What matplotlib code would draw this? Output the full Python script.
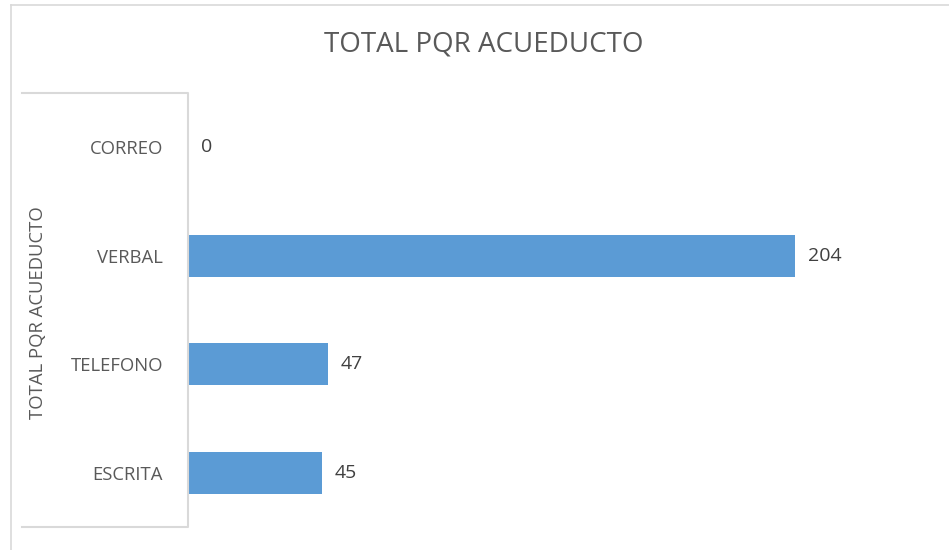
import matplotlib
matplotlib.use("Agg")
import matplotlib.pyplot as plt
from matplotlib.lines import Line2D

# data
categories = ["ESCRITA", "TELEFONO", "VERBAL", "CORREO"]
values = [45, 47, 204, 0]
chart_title = "TOTAL PQR ACUEDUCTO"
axis_title = "TOTAL PQR ACUEDUCTO"

W, H = 949, 550
plt.rcParams['font.family'] = ['Open Sans', 'DejaVu Sans']

fig = plt.figure(figsize=(W / 100, H / 100), dpi=100)
fig.patch.set_facecolor("white")

# plot area in pixels: left 188, right 932, top 93, bottom 527
left, right, top, bottom = 188, 932, 93, 527
ax = fig.add_axes([left / W, 1 - bottom / H, (right - left) / W, (bottom - top) / H])

ypos = list(range(len(categories)))
ax.barh(ypos, values, height=0.39, color="#5B9BD5")
ax.set_xlim(0, 250)
ax.set_ylim(-0.5, len(categories) - 0.5)

for s in ax.spines.values():
    s.set_visible(False)
ax.set_xticks([])
ax.set_yticks(ypos)
ax.set_yticklabels(categories, fontsize=13.3, color="#595959")
ax.tick_params(axis="y", length=0, pad=18)

# data labels
for y, v in zip(ypos, values):
    ax.annotate(str(v), xy=(v, y), xytext=(9.5, 0), textcoords="offset points",
                ha="left", va="center", fontsize=14, color="#404040")

# category axis box (Excel style)
box_left = (22 - left) / (right - left)
box_col = "#D9D9D9"
ax.plot([box_left, 0, 0, box_left], [1, 1, 0, 0], transform=ax.transAxes,
        color=box_col, lw=1.5, clip_on=False)

ax.text(38 / W, 1 - 313 / H, axis_title, transform=fig.transFigure, rotation=90,
        ha="center", va="center", fontsize=13.3, color="#595959")

fig.text(484 / W, 1 - 45 / H, chart_title, ha="center", va="center",
         fontsize=20, color="#595959")

# outer chart frame (cropped on the right and bottom)
fig.add_artist(Line2D([11 / W, 11 / W], [0, 1 - 5 / H], transform=fig.transFigure,
                      color=box_col, lw=1.2))
fig.add_artist(Line2D([11 / W, 1], [1 - 5 / H, 1 - 5 / H], transform=fig.transFigure,
                      color=box_col, lw=1.2))

fig.savefig("out.png", dpi=100)
